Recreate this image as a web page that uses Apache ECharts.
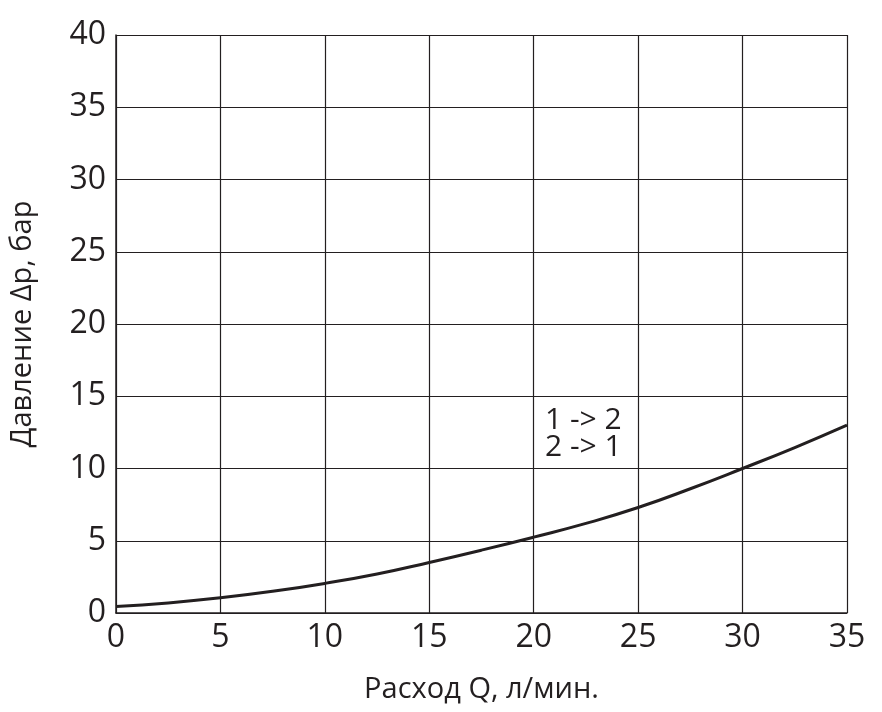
<!DOCTYPE html>
<html><head><meta charset="utf-8">
<script src="https://cdn.jsdelivr.net/npm/echarts@6/dist/echarts.min.js"></script>
<style>html,body{margin:0;padding:0;background:#fff}#c{width:882px;height:712px}</style>
</head><body><div id="c"></div>
<script>
const flowQ = [0, 2.5, 5, 7.5, 10, 12.5, 15, 17.5, 20, 22.5, 25, 27.5, 30, 32.5, 35];
const pressure = [0.45, 0.7, 1.05, 1.5, 2.05, 2.7, 3.5, 4.35, 5.25, 6.2, 7.3, 8.6, 10.0, 11.45, 13.0];
const xTitle = 'Расход Q, л/мин.';
const yTitle = 'Давление Δр, бар';
const noteLines = ['1 -> 2', '2 -> 1'];

const ink = '#231f20';
const chart = echarts.init(document.getElementById('c'));
chart.setOption({
  animation: false,
  grid: {left: 116, top: 35, right: 35, bottom: 99},
  xAxis: {
    type: 'value', min: 0, max: 35, interval: 5,
    name: xTitle, nameLocation: 'middle', nameGap: 62,
    nameTextStyle: {color: ink, fontSize: 29, fontFamily: 'Open Sans'},
    axisLine: {show: true, lineStyle: {color: ink, width: 1.5}},
    axisTick: {show: false},
    axisLabel: {color: ink, fontSize: 32, fontFamily: 'Open Sans', margin: 9},
    splitLine: {show: true, lineStyle: {color: ink, width: 1.2}}
  },
  yAxis: {
    type: 'value', min: 0, max: 40, interval: 5,
    name: yTitle, nameLocation: 'middle', nameGap: 79,
    nameTextStyle: {color: ink, fontSize: 29, fontFamily: 'Open Sans'},
    axisLine: {show: true, lineStyle: {color: ink, width: 1.5}},
    axisTick: {show: false},
    axisLabel: {color: ink, fontSize: 32, fontFamily: 'Open Sans', margin: 10},
    splitLine: {show: true, lineStyle: {color: ink, width: 1.2}}
  },
  series: [{
    type: 'line', smooth: true, showSymbol: false,
    data: flowQ.map((q, i) => [q, pressure[i]]),
    lineStyle: {color: ink, width: 3}
  }],
  graphic: [{
    type: 'text', left: 545, top: 405,
    style: {text: noteLines.join('\n'), fill: ink, fontSize: 30, lineHeight: 27, fontFamily: 'Open Sans'}
  }]
});
</script></body></html>
